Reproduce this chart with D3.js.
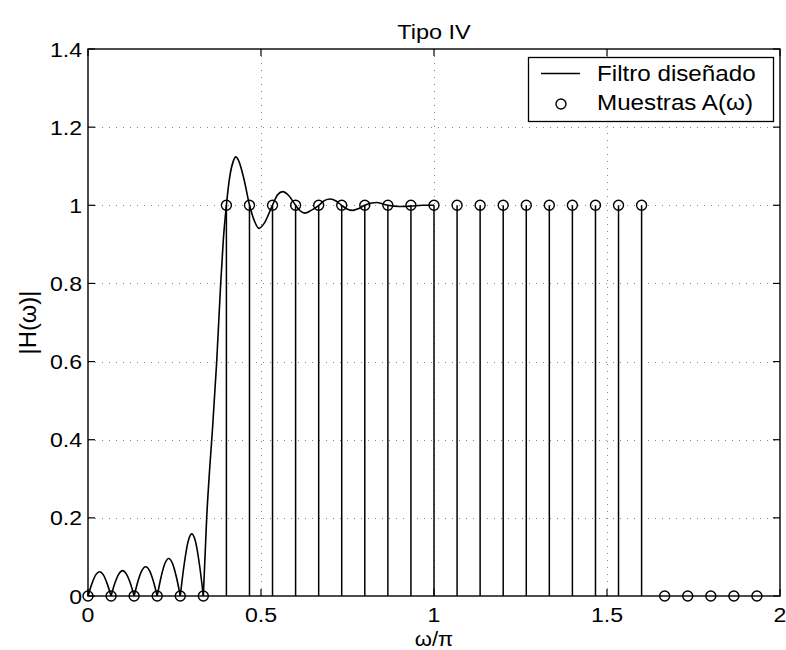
<!DOCTYPE html>
<html>
<head>
<meta charset="utf-8">
<script src="https://cdn.jsdelivr.net/npm/d3@7"></script>
<style>
  html, body { margin: 0; padding: 0; background: #fff; }
  svg { display: block; }
  text { font-family: "Liberation Sans", Arial, Helvetica, sans-serif; fill: #000; }
</style>
</head>
<body>
<svg id="chart" width="786" height="650"></svg>
<script>
// ---- data ----
const titleText = "Tipo IV";
const xLabelText = "ω/π";
const yLabelText = "|H(ω)|";
const legendLabels = ["Filtro diseñado", "Muestras A(ω)"];

const xTicks = [0, 0.5, 1, 1.5, 2];
const xTickLabels = ["0", "0.5", "1", "1.5", "2"];
const yTicks = [0, 0.2, 0.4, 0.6, 0.8, 1, 1.2, 1.4];
const yTickLabels = ["0", "0.2", "0.4", "0.6", "0.8", "1", "1.2", "1.4"];

// frequency samples (omega/pi) and sampled amplitude
const sampleW = [0, 0.0667, 0.1333, 0.2, 0.2667, 0.3333, 0.4, 0.4667, 0.5333, 0.6,
                 0.6667, 0.7333, 0.8, 0.8667, 0.9333, 1.0, 1.0667, 1.1333, 1.2, 1.2667,
                 1.3333, 1.4, 1.4667, 1.5333, 1.6, 1.6667, 1.7333, 1.8, 1.8667, 1.9333];
const sampleA = [0, 0, 0, 0, 0, 0, 1, 1, 1, 1,
                 1, 1, 1, 1, 1, 1, 1, 1, 1, 1,
                 1, 1, 1, 1, 1, 0, 0, 0, 0, 0];

// designed filter magnitude, omega/pi in [0,1]
const curveW = [0, 0.0111, 0.0222, 0.0333, 0.0444, 0.0556, 0.0667,
                0.0778, 0.0889, 0.1, 0.1111, 0.1222, 0.1333,
                0.1444, 0.1556, 0.1667, 0.1778, 0.1889, 0.2,
                0.2111, 0.2222, 0.2333, 0.2444, 0.2556, 0.2667,
                0.2778, 0.2889, 0.3, 0.3111, 0.3222, 0.3333,
                0.343, 0.352, 0.36, 0.372, 0.3835, 0.391, 0.4, 0.41, 0.42, 0.427, 0.435,
                0.45, 0.467, 0.48, 0.494, 0.51, 0.533, 0.548, 0.563, 0.58, 0.6,
                0.613, 0.627, 0.645, 0.667, 0.683, 0.7, 0.717, 0.733, 0.75, 0.765,
                0.783, 0.8, 0.82, 0.835, 0.85, 0.867, 0.9, 0.933, 0.967, 1.0];
const curveH = [0, 0.031, 0.054, 0.062, 0.054, 0.031, 0,
                0.033, 0.056, 0.065, 0.056, 0.033, 0,
                0.038, 0.065, 0.075, 0.065, 0.038, 0,
                0.048, 0.083, 0.096, 0.083, 0.048, 0,
                0.080, 0.138, 0.159, 0.138, 0.080, 0,
                0.2, 0.33, 0.43, 0.6, 0.8, 0.91, 1.0, 1.075, 1.113, 1.124, 1.115,
                1.07, 1.0, 0.962, 0.941, 0.955, 1.0, 1.027, 1.035, 1.025, 1.0,
                0.986, 0.98, 0.987, 1.0, 1.012, 1.016, 1.011, 1.0, 0.99, 0.987,
                0.992, 1.0, 1.006, 1.007, 1.004, 1.0, 0.997, 0.998, 1.0, 1.0];

// ---- layout ----
const svg = d3.select("#chart");
const mL = 88, mR = 780, mT = 49, mB = 596;
const x = d3.scaleLinear().domain([0, 2]).range([mL, mR]);
const y = d3.scaleLinear().domain([0, 1.4]).range([mB, mT]);
const SX = 1.1;       // horizontal stretch of the reference text
const FS = 21;

// grid
const grid = svg.append("g").attr("stroke", "#888").attr("stroke-width", 1)
  .attr("stroke-dasharray", "1,6");
xTicks.filter(t => t > 0 && t < 2).forEach(t => {
  grid.append("line").attr("x1", Math.round(x(t)) + 0.5).attr("x2", Math.round(x(t)) + 0.5)
    .attr("y1", mB).attr("y2", mT);
});
yTicks.filter(t => t > 0 && t < 1.4).forEach(t => {
  grid.append("line").attr("y1", Math.round(y(t)) + 0.5).attr("y2", Math.round(y(t)) + 0.5)
    .attr("x1", mL).attr("x2", mR);
});

// stems
svg.append("g").selectAll("line").data(sampleW.map((w, i) => [w, sampleA[i]]).filter(d => d[1] !== 0))
  .join("line")
  .attr("x1", d => x(d[0])).attr("x2", d => x(d[0]))
  .attr("y1", y(0)).attr("y2", d => y(d[1]))
  .attr("stroke", "#000").attr("stroke-width", 1.5);

// curve split into segments at zeros (cusps of |H|)
const pts = curveW.map((w, i) => [w, curveH[i]]);
const segs = [];
let cur = [pts[0]];
for (let i = 1; i < pts.length; i++) {
  cur.push(pts[i]);
  if (pts[i][1] === 0 && i < pts.length - 1) { segs.push(cur); cur = [pts[i]]; }
}
segs.push(cur);
const lineGen = d3.line().x(d => x(d[0])).y(d => y(d[1])).curve(d3.curveMonotoneX);
svg.append("g").selectAll("path").data(segs).join("path")
  .attr("d", lineGen).attr("fill", "none").attr("stroke", "#000").attr("stroke-width", 1.6)
  .attr("stroke-linejoin", "round");

// sample markers
svg.append("g").selectAll("circle").data(sampleW.map((w, i) => [w, sampleA[i]]))
  .join("circle")
  .attr("cx", d => x(d[0])).attr("cy", d => y(d[1])).attr("r", 5)
  .attr("fill", "none").attr("stroke", "#000").attr("stroke-width", 1.4);

// axes box
svg.append("rect").attr("x", mL).attr("y", mT).attr("width", mR - mL).attr("height", mB - mT)
  .attr("fill", "none").attr("stroke", "#000").attr("stroke-width", 1.4);

// ticks (inward, all four sides)
const tk = svg.append("g").attr("stroke", "#000").attr("stroke-width", 1.2);
xTicks.forEach(t => {
  tk.append("line").attr("x1", x(t)).attr("x2", x(t)).attr("y1", mB).attr("y2", mB - 7);
  tk.append("line").attr("x1", x(t)).attr("x2", x(t)).attr("y1", mT).attr("y2", mT + 7);
});
yTicks.forEach(t => {
  tk.append("line").attr("y1", y(t)).attr("y2", y(t)).attr("x1", mL).attr("x2", mL + 7);
  tk.append("line").attr("y1", y(t)).attr("y2", y(t)).attr("x1", mR).attr("x2", mR - 7);
});

// tick labels
const txt = (g, str, px, py, anchor, fs, sx) =>
  g.append("text").attr("transform", `translate(${px},${py}) scale(${sx},1)`)
   .attr("text-anchor", anchor).attr("font-size", fs).text(str);

const lab = svg.append("g");
xTicks.forEach((t, i) => txt(lab, xTickLabels[i], x(t), 622, "middle", FS, SX));
yTicks.forEach((t, i) => txt(lab, yTickLabels[i], 82, y(t) + 7.5, "end", FS, SX));

// title & axis labels
txt(svg, titleText, (mL + mR) / 2, 39, "middle", FS, 1.12);
txt(svg, xLabelText, (mL + mR) / 2, 646, "middle", 20, 1.1);
svg.append("text").attr("transform", `translate(36,${(mT + mB) / 2}) rotate(-90) scale(1.08,1.08)`)
  .attr("text-anchor", "middle").attr("font-size", 22).text(yLabelText);

// legend
const lg = svg.append("g");
lg.append("rect").attr("x", 528.5).attr("y", 57.5).attr("width", 245).attr("height", 64)
  .attr("fill", "#fff").attr("stroke", "#000").attr("stroke-width", 1.3);
lg.append("line").attr("x1", 541).attr("x2", 580).attr("y1", 73.5).attr("y2", 73.5)
  .attr("stroke", "#000").attr("stroke-width", 1.6);
lg.append("circle").attr("cx", 561).attr("cy", 104).attr("r", 5)
  .attr("fill", "none").attr("stroke", "#000").attr("stroke-width", 1.4);
txt(lg, legendLabels[0], 597, 81, "start", 22, 1.1);
txt(lg, legendLabels[1], 597, 110, "start", 22, 1.1);
</script>
</body>
</html>
